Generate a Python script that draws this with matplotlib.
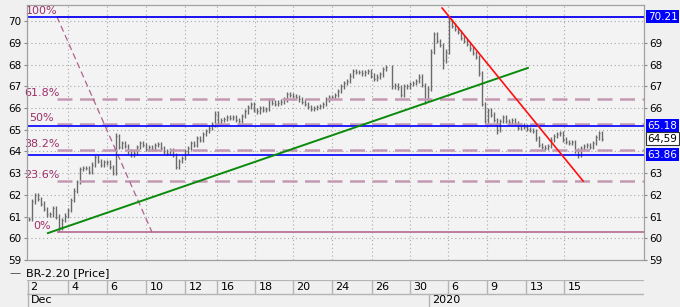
import numpy as np
import matplotlib.pyplot as plt

# BR-2.20 price bars (one bar every ~3 px, NaN = gap)
close = [60.9, 61.7, 62.0, 61.8, 61.6, 61.35, 61.1, 61.1, 61.4, 61.0,
         60.5, 60.85, 61.05, 61.3, 61.75, 62.2, 62.6, 63.2, 63.25, 63.25,
         63.05, 63.4, 63.75, 63.55, 63.4, 63.5, 63.5, 63.3, 63.0, 64.7,
         64.2, 64.4, 64.25, 64.0, 63.85, 63.95, 64.2, 64.4, 64.3, 64.1,
         64.2, 64.1, 64.3, 64.35, 64.15, 64.0, 63.95, 64.05, 63.85, 63.3,
         63.55, 63.7, 64.0, 64.15, 64.4, 64.3, 64.6, 64.55, 64.8, 64.95,
         65.1, 65.25, 65.75, 65.3, 65.45, 65.5, 65.6, 65.55, 65.6, 65.45,
         65.4, 65.65, 65.85, 66.05, 66.2, 65.9, 65.85, 66.0, 65.9, 65.95,
         66.35, 66.25, 66.2, 66.25, 66.3, 66.4, 66.65, 66.6, 66.55, 66.5,
         66.4, 66.3, 66.2, 66.05, 65.95, 66.0, 66.05, 66.1, 66.2, 66.4,
         66.5, 66.5, 66.6, 66.8, 67.0, 67.15, 67.25, 67.5, 67.7, 67.65,
         67.65, 67.6, 67.65, 67.7, 67.5, 67.35, 67.45, 67.55, 67.8, 67.9,
         np.nan, 67.0, 67.05, 66.95, 66.6, 67.0, 67.0, 67.1, 67.15, 67.25,
         67.45, 67.05, 66.4, 66.9, 68.6, 69.4, 69.1, 68.9, 68.2, 68.6,
         70.0, 69.8, 69.65, 69.5, 69.25, 69.1, 68.95, 68.75, 68.55, 68.35,
         67.6, 66.2, 65.4, 65.9, 65.7, 65.45, 65.0, 65.4, 65.6, 65.4,
         65.35, 65.45, 65.3, 65.1, 65.2, 65.15, 65.05, 65.0, 64.95, 64.6,
         64.3, 64.2, 64.15, 64.25, 64.55, 64.7, 64.8, 64.85, 64.55, 64.45,
         64.4, 64.45, 64.05, 63.85, 64.15, 64.25, 64.3, 64.2, 64.4, 64.65,
         64.85, 64.59]
# extra wicks seen on the chart: bar index -> price
wick_low = {10: 60.28, 28: 62.9, 49: 63.2, 132: 66.2, 138: 67.8, 156: 64.8, 183: 63.7}
wick_high = {29: 64.85, 62: 65.85, 140: 70.21}

# fibonacci retracement
fib_levels = [1.0, 0.618, 0.5, 0.382, 0.236, 0.0]
fib_labels = ['100%', '61.8%', '50%', '38.2%', '23.6%', '0%']
fib_high = 70.21
fib_low = 60.28
fib_x = [9.3, 41.0]

# trend lines (bar index, price)
green_x = [6.3, 166.3]
green_y = [60.24, 67.85]
red_x = [137.7, 184.7]
red_y = [70.61, 62.64]

blue_levels = [70.21, 65.18, 63.86]
last_price = 64.59

day_ticks = [13, 26, 39, 52, 62.7, 75.3, 88, 101, 114.3, 127, 139.7, 152.7, 165.7, 178.3]
day_labels = ['2', '4', '6', '10', '12', '16', '18', '20', '24', '26', '30', '6', '9', '13', '15']
year_start = 133.3

plt.rcParams['font.family'] = 'DejaVu Sans'
W, H = 680, 307
XMIN, XMAX = -0.67, 205
fig = plt.figure(figsize=(W / 100, H / 100), dpi=100, facecolor='#f0f0f0')
ax = fig.add_axes([27 / W, (H - 260) / H, (644 - 27) / W, 255 / H])
ax.set_facecolor('#f3f3f3')
ax.set_xlim(XMIN, XMAX)
ax.set_ylim(59, 70.75)

# grid
ax.set_yticks(range(59, 71))
ax.set_xticks(day_ticks)
ax.grid(True, color='#a8a8a8', lw=0.8, ls=(0, (1, 2.5)))
ax.tick_params(axis='x', length=0, labelbottom=False)
ax.tick_params(axis='y', labelsize=7.5, length=2, color='#888888', pad=2)
for s in ax.spines.values():
    s.set_color('#a0a0a0')

# right axis: numbers hidden under the price boxes are left out
marked = blue_levels + [last_price]
ax2 = ax.twinx()
ax2.set_ylim(ax.get_ylim())
ax2.set_yticks([t for t in range(59, 71) if all(abs(t - m) > 0.4 for m in marked)])
ax2.tick_params(axis='y', labelsize=7.5, length=2, color='#888888', pad=2)
for s in ax2.spines.values():
    s.set_color('#a0a0a0')

# price bars
prev = close[0]
for i, c in enumerate(close):
    if np.isnan(c):
        continue
    o = prev if not np.isnan(prev) else c
    hi = max(o, c) + 0.1
    lo = min(o, c) - 0.1
    hi = max(hi, wick_high.get(i, hi))
    lo = min(lo, wick_low.get(i, lo))
    ax.vlines(i, lo, hi, color='#6a6a6a', lw=1.0)
    ax.hlines(c, i, i + 0.3, color='#6a6a6a', lw=0.8)
    prev = c

# fibonacci
fib_col = '#9c2f6a'
for lev, lab in zip(fib_levels, fib_labels):
    p = fib_low + lev * (fib_high - fib_low)
    if lev in (0.0, 1.0):
        ax.hlines(p, fib_x[0], XMAX, color='#b46a92', lw=1.2)
    else:
        ax.hlines(p, fib_x[0], XMAX, color='#c49ab2', lw=1.8, ls=(0, (6, 3)))
    ax.text(4.3, p + 0.05, lab, color=fib_col, fontsize=8, ha='center', va='bottom')
ax.plot(fib_x, [fib_high, fib_low], color='#b0628e', lw=0.9, ls=(0, (5, 3)))

# horizontal price levels
for p in blue_levels:
    ax.axhline(p, color='#0000ff', lw=1.2)

# trend lines
ax.plot(green_x, green_y, color='#0a8a0a', lw=1.4)
ax.plot(red_x, red_y, color='#ff1010', lw=1.2)

# price boxes on the right axis
tr = ax.get_yaxis_transform()
for p in blue_levels:
    ax.text(1.006, p, '%.2f' % p, transform=tr, fontsize=7.5, color='white',
            va='center', ha='left',
            bbox=dict(facecolor='#0000ff', edgecolor='none', pad=1.2))
ax.text(1.006, last_price, ('%.2f' % last_price).replace('.', ','), transform=tr,
        fontsize=7.5, color='black', va='center', ha='left',
        bbox=dict(facecolor='white', edgecolor='#333333', lw=0.8, pad=1.2))

# legend line
fig.text(9 / W, 1 - 273 / H, '\u2014', fontsize=8, color='#444444', va='center')
fig.text(26 / W, 1 - 273 / H, 'BR-2.20 [Price]', fontsize=8, va='center')

# date axis
dax = fig.add_axes([27 / W, 0, (644 - 27) / W, 27 / H])
dax.set_xlim(XMIN, XMAX)
dax.set_ylim(0, 2)
dax.axis('off')
edge = '#b4b4b4'
dax.axhline(2, color=edge, lw=1.6)
dax.axhline(1, color=edge, lw=1.0)
dax.vlines([XMIN + 0.4], 0, 2, color=edge, lw=1.0)
dax.vlines(day_ticks, 1, 2, color=edge, lw=1.0)
dax.vlines([year_start], 0, 1, color=edge, lw=1.0)
for x, lab in zip([XMIN] + day_ticks, day_labels):
    dax.text(x + 1.2, 1.5, lab, fontsize=8, va='center', ha='left')
dax.text(XMIN + 1.2, 0.5, 'Dec', fontsize=8, va='center', ha='left')
dax.text(year_start + 1.0, 0.5, '2020', fontsize=8, va='center', ha='left')

fig.savefig('out.png', dpi=100, facecolor=fig.get_facecolor())
